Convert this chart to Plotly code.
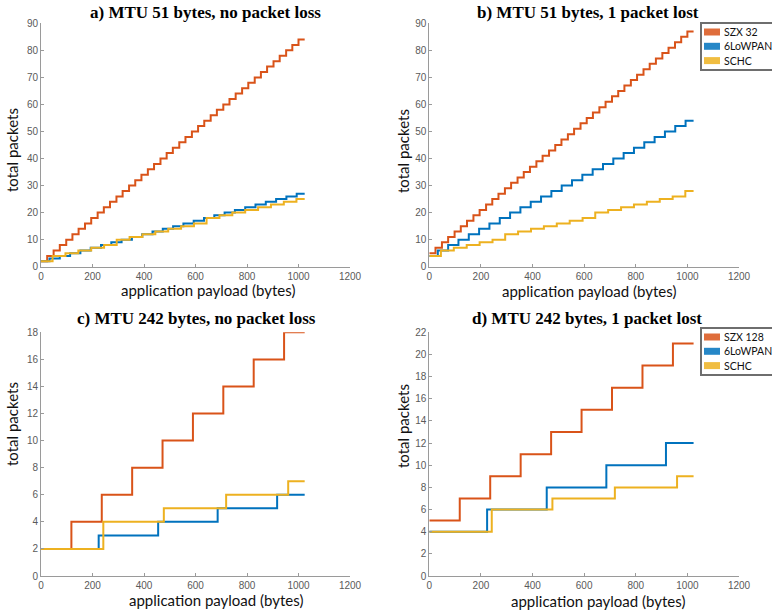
import plotly.graph_objects as go

# ---------------- data ----------------
# a) MTU 51 bytes, no packet loss   /  b) MTU 51 bytes, 1 packet lost
szx32_x = [0, 24, 49, 73, 98, 122, 146, 171, 195, 220, 244, 268, 293, 317, 342, 366, 390,
           415, 439, 464, 488, 512, 537, 561, 586, 610, 634, 659, 683, 708, 732, 756, 781,
           805, 830, 854, 878, 903, 927, 952, 976, 1000, 1024]
szx32_a = [2, 4, 6, 8, 10, 12, 14, 16, 18, 20, 22, 24, 26, 28, 30, 32, 34, 36, 38, 40, 42,
           44, 46, 48, 50, 52, 54, 56, 58, 60, 62, 64, 66, 68, 70, 72, 74, 76, 78, 80, 82, 84, 84]
szx32_b = [5, 7, 9, 11, 13, 15, 17, 19, 21, 23, 25, 27, 29, 31, 33, 35, 37, 39, 41, 43, 45,
           47, 49, 51, 53, 55, 57, 59, 61, 63, 65, 67, 69, 71, 73, 75, 77, 79, 81, 83, 85, 87, 87]

lowpan51_x = [0, 33, 73, 113, 153, 193, 233, 273, 313, 353, 393, 433, 473, 513, 553, 593,
              633, 673, 713, 753, 793, 833, 873, 913, 953, 993, 1024]
lowpan51_a = [2, 3, 4, 5, 6, 7, 8, 9, 10, 11, 12, 13, 14, 15, 16, 17, 18, 19, 20, 21, 22, 23,
              24, 25, 26, 27, 27]
lowpan51_b = [4, 6, 8, 10, 12, 14, 16, 18, 20, 22, 24, 26, 28, 30, 32, 34, 36, 38, 40, 42, 44,
              46, 48, 50, 52, 54, 54]

schc51_x = [0, 45, 95, 145, 195, 245, 294, 344, 394, 444, 494, 544, 594, 643, 693, 743, 793,
            843, 893, 943, 992, 1024]
schc51_a = [2, 4, 5, 6, 7, 8, 10, 11, 12, 13, 14, 15, 16, 18, 19, 20, 21, 22, 23, 24, 25, 25]
schc51_b = [4, 6, 7, 8, 9, 10, 12, 13, 14, 15, 16, 17, 18, 20, 21, 22, 23, 24, 25, 26, 28, 28]

# c) MTU 242 bytes, no packet loss  /  d) MTU 242 bytes, 1 packet lost
szx128_x = [0, 118, 236, 354, 472, 590, 708, 826, 944, 1024]
szx128_c = [2, 4, 6, 8, 10, 12, 14, 16, 18, 18]
szx128_d = [5, 7, 9, 11, 13, 15, 17, 19, 21, 21]

lowpan242_x = [0, 224, 455, 686, 917, 1024]
lowpan242_c = [2, 3, 4, 5, 6, 6]
lowpan242_d = [4, 6, 8, 10, 12, 12]

schc242_x = [0, 242, 477, 719, 960, 1024]
schc242_c = [2, 4, 5, 6, 7, 7]
schc242_d = [4, 6, 7, 8, 9, 9]

panel_titles = ["a) MTU 51 bytes, no packet loss", "b) MTU 51 bytes, 1 packet lost",
                "c) MTU 242 bytes, no packet loss", "d) MTU 242 bytes, 1 packet lost"]
legend_b_names = ["SZX 32", "6LoWPAN", "SCHC"]
legend_d_names = ["SZX 128", "6LoWPAN", "SCHC"]
x_title = "application payload (bytes)"
y_title = "total packets"
x_ticks = [0, 200, 400, 600, 800, 1000, 1200]

# ---------------- style ----------------
W, H = 772, 615
RED, BLUE, YEL = "#D95319", "#0072BD", "#EDB120"
TICKFONT = dict(family="Liberation Sans, Arial", size=10, color="#5a5a5a")
LBLFONT = dict(family="Lato, Open Sans", size=15, color="#111111")
LEGFONT = dict(family="Lato, Open Sans", size=10.5, color="#111111")
TTLFONT = dict(family="Liberation Serif, Times New Roman", size=17, color="#000000", weight="bold")


def px(x):
    return x / W


def py(y):
    return 1 - y / H


fig = go.Figure()

panels = [
    ("", (41, 350), (23.3, 266.7), 90,
     [(szx32_x, szx32_a, RED), (lowpan51_x, lowpan51_a, BLUE), (schc51_x, schc51_a, YEL)]),
    ("2", (429.3, 739), (23.3, 266.7), 90,
     [(szx32_x, szx32_b, RED), (lowpan51_x, lowpan51_b, BLUE), (schc51_x, schc51_b, YEL)]),
    ("3", (41, 350), (332.3, 576), 18,
     [(szx128_x, szx128_c, RED), (lowpan242_x, lowpan242_c, BLUE), (schc242_x, schc242_c, YEL)]),
    ("4", (429.3, 739), (332.3, 576), 22,
     [(szx128_x, szx128_d, RED), (lowpan242_x, lowpan242_d, BLUE), (schc242_x, schc242_d, YEL)]),
]

layout_axes = {}
for suf, (x0, x1), (ytop, ybot), ymax, series in panels:
    for xs, ys, col in series:
        fig.add_trace(go.Scatter(x=xs, y=ys, mode="lines", line=dict(color=col, width=2, shape="hv"),
                                 xaxis="x" + suf, yaxis="y" + suf, showlegend=False,
                                 hoverinfo="skip", cliponaxis=False))
    common = dict(showgrid=False, zeroline=False, showline=True, linecolor="#9a9a9a", linewidth=1,
                  ticks="inside", ticklen=3, tickcolor="#9a9a9a", tickfont=TICKFONT, mirror=False,
                  automargin=False)
    layout_axes["xaxis" + suf] = dict(domain=[px(x0), px(x1)], range=[0, 1200], tickvals=x_ticks,
                                      anchor="y" + suf, **common)
    layout_axes["yaxis" + suf] = dict(domain=[py(ybot), py(ytop)], range=[0, ymax],
                                      dtick=10 if ymax == 90 else 2, anchor="x" + suf, **common)

# ---------------- legends (drawn as shapes + text) ----------------
shapes = []
annotations = []
for names, top in [(legend_b_names, 23), (legend_d_names, 328)]:
    shapes.append(dict(type="rect", xref="paper", yref="paper", x0=px(701), x1=px(790),
                       y0=py(top + 47), y1=py(top), line=dict(color="#6e6e6e", width=2),
                       fillcolor="white", layer="above"))
    for i, (name, col) in enumerate(zip(names, [RED, BLUE, YEL])):
        cy = top + 9 + 14.3 * i
        shapes.append(dict(type="rect", xref="paper", yref="paper", x0=px(704), x1=px(720),
                           y0=py(cy + 3.5), y1=py(cy - 3.5), line=dict(width=0),
                           fillcolor=col, opacity=0.85, layer="above"))
        annotations.append(dict(text=name, x=px(722), y=py(cy), xref="paper", yref="paper",
                                showarrow=False, xanchor="left", yanchor="middle", font=LEGFONT))

title_pos = [(205.5, 13), (587.5, 13), (196, 318), (586.5, 318)]
for t, (tx, ty) in zip(panel_titles, title_pos):
    annotations.append(dict(text=t, x=px(tx), y=py(ty), xref="paper", yref="paper",
                            showarrow=False, xanchor="center", yanchor="middle", font=TTLFONT))
xt_pos = [(208, 290), (589, 291), (216, 600), (598, 601)]
for (tx, ty) in xt_pos:
    annotations.append(dict(text=x_title, x=px(tx), y=py(ty), xref="paper", yref="paper",
                            showarrow=False, xanchor="center", yanchor="middle", font=LBLFONT))
yt_pos = [(12, 150), (403, 151), (12, 424), (403, 426)]
for (tx, ty) in yt_pos:
    annotations.append(dict(text=y_title, x=px(tx), y=py(ty), xref="paper", yref="paper",
                            showarrow=False, xanchor="center", yanchor="middle", textangle=-90,
                            font=LBLFONT))

fig.update_layout(
    width=W, height=H, margin=dict(l=0, r=0, t=0, b=0),
    paper_bgcolor="white", plot_bgcolor="white",
    showlegend=False,
    shapes=shapes,
    annotations=annotations,
    **layout_axes,
)

fig.write_html("out.html", config={"displayModeBar": False},
               post_script="document.body.style.margin='0';document.body.style.overflow='hidden';")
